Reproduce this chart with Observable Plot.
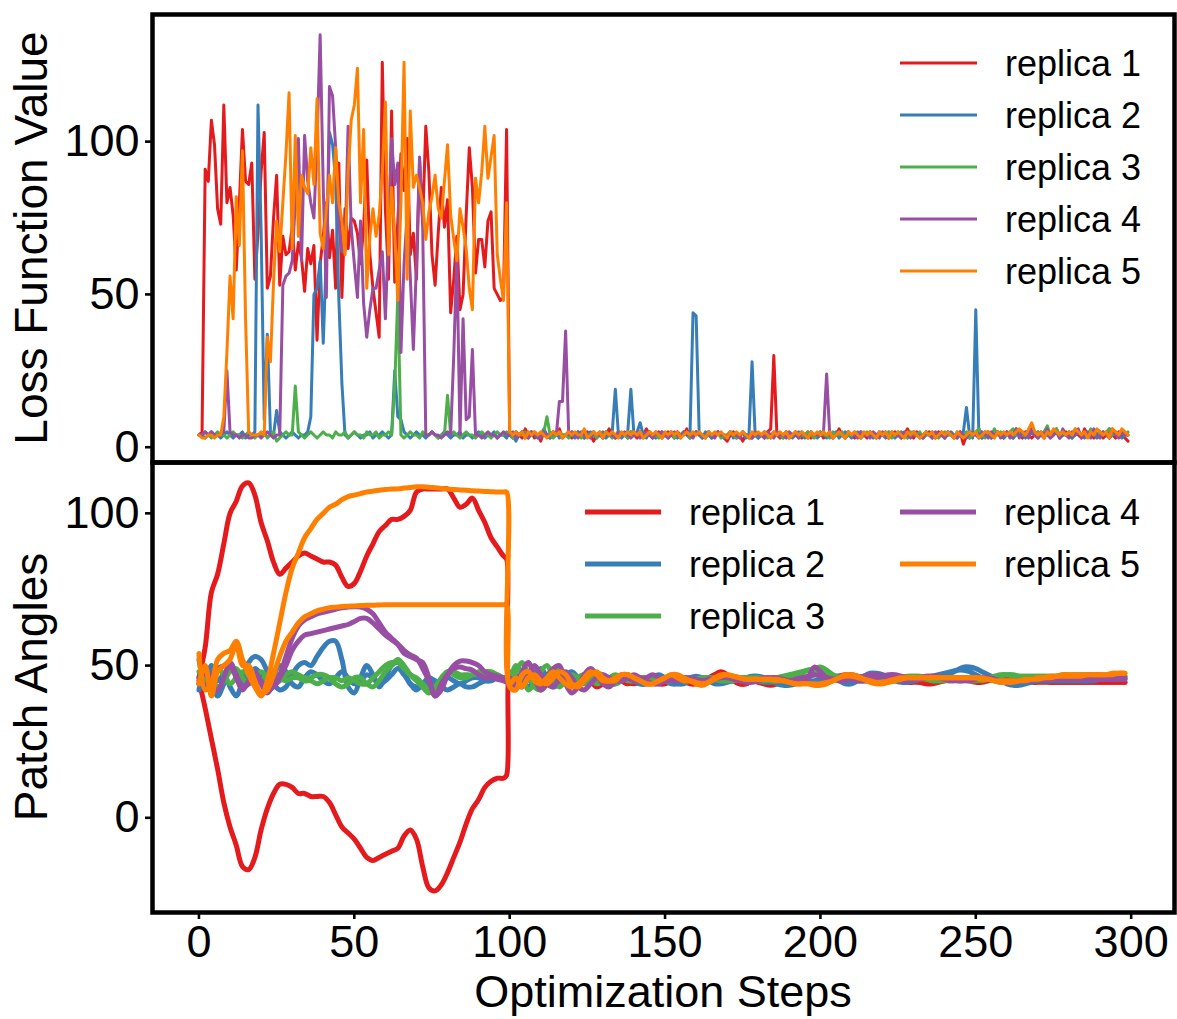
<!DOCTYPE html>
<html><head><meta charset="utf-8">
<script src="https://cdn.jsdelivr.net/npm/d3@7"></script>
<script src="https://cdn.jsdelivr.net/npm/@observablehq/plot@0.6"></script>
<style>
body{margin:0;background:#fff;}
#wrap{position:relative;width:1177px;height:1019px;overflow:hidden;background:#fff;font-family:"Liberation Sans",Arial,Helvetica,sans-serif;}
#wrap svg{position:absolute;left:0;overflow:visible;}
</style></head><body><div id="wrap"></div>
<script>
// ---------- categories ----------
const replicas = ["replica 1","replica 2","replica 3","replica 4","replica 5"];
const colors = ["#e41a1c","#377eb8","#4daf4a","#984ea3","#ff7f00"];
const xTicks = [0,50,100,150,200,250,300];
const yTicks = [0,50,100];

// ---------- top panel: loss per step (0..299) ----------
const lossR1 = [
4,5,91,87,107,99,78,73,112,80,85,76,58,80,104,87,86,93,55,70,
90,103,52,56,75,89,53,69,63,64,72,58,67,62,51,65,60,66,35,60,
69,80,62,71,52,93,49,78,65,75,74,70,60,72,94,63,52,44,36,126,
78,55,110,54,74,96,84,101,63,70,55,94,74,105,90,63,53,70,85,72,
81,44,55,69,45,50,76,98,85,57,68,68,59,74,77,52,50,48,49,104,
4,3,5,4,3,6,4,5,3,4,2,5,4,3,5,4,6,3,4,5,
3,4,5,4,3,5,4,2,4,5,3,4,6,4,3,5,4,4,3,5,
4,3,5,4,6,4,3,4,5,3,4,5,4,3,5,4,4,6,3,4,
5,4,3,4,5,3,4,5,4,3,2,4,5,3,4,2,4,3,3,4,
3,4,3,5,6,30,4,3,4,5,3,4,5,4,3,4,5,3,4,4,
5,3,4,5,3,4,6,4,3,5,4,3,4,5,4,3,5,4,3,4,
4,5,3,4,5,4,3,4,6,4,3,5,4,3,4,5,4,3,5,4,
3,5,4,3,4,5,1,4,3,5,4,6,3,4,5,3,4,5,4,3,
5,4,3,6,4,3,5,4,3,4,5,4,3,5,4,4,6,3,4,5,
4,3,5,4,3,6,4,5,3,4,5,3,4,6,4,3,5,4,3,2];
const lossR2 = [
4,4,3,4,5,4,4,3,4,5,4,3,4,4,5,3,4,4,5,112,
71,9,37,5,4,12,5,4,3,4,5,4,3,4,4,5,10,50,52,61,
34,63,103,99,87,49,21,4,3,4,5,4,3,4,4,5,3,4,4,5,
4,3,4,25,10,9,5,4,3,4,5,4,4,3,4,5,4,3,4,5,
4,3,4,4,5,3,4,4,3,4,5,4,3,4,4,5,3,4,4,3,
5,4,2,4,5,3,4,5,4,3,4,6,4,3,4,5,3,4,4,5,
4,3,5,4,3,4,5,4,3,4,5,3,4,5,19,4,3,4,5,19,
4,5,8,4,3,5,4,3,4,5,4,3,5,4,3,4,5,4,3,44,
43,4,3,5,4,3,4,5,4,3,4,5,3,4,4,5,3,4,28,4,
3,4,5,4,3,4,5,4,3,5,4,3,4,5,4,3,4,5,4,3,
4,5,3,4,4,5,3,4,5,4,3,4,5,3,4,4,5,3,4,5,
4,3,5,4,3,4,5,4,3,4,5,4,3,4,5,4,3,4,4,5,
3,4,5,4,3,4,5,13,4,3,45,4,3,5,4,3,4,5,4,3,
4,5,3,4,5,4,3,4,5,4,3,4,5,4,3,4,5,3,4,4,
5,3,4,5,4,3,4,5,4,3,4,5,4,3,4,5,4,3,4,4];
const lossR3 = [
4,4,5,4,3,4,5,4,4,3,4,5,4,4,3,4,5,4,3,4,
4,5,3,4,5,2,3,4,5,4,4,20,5,4,3,4,5,4,3,4,
5,4,4,3,5,4,4,5,3,4,5,4,4,3,5,4,4,5,3,4,
4,5,4,20,50,4,3,4,5,4,4,3,5,4,4,5,4,3,4,4,
17,4,5,4,3,4,5,4,4,3,4,5,4,4,3,4,5,4,4,5,
4,3,5,4,4,5,3,4,5,4,4,5,10,4,3,4,5,4,4,3,
5,4,4,3,5,4,4,5,3,4,4,5,4,3,4,5,4,4,3,5,
4,4,5,3,4,5,4,4,3,5,4,4,5,3,4,4,5,4,3,4,
5,4,4,3,5,4,4,5,3,4,4,5,4,3,4,5,4,4,3,5,
4,4,5,3,4,5,4,4,3,5,4,4,5,3,4,4,5,4,3,4,
5,4,4,3,5,4,4,5,3,4,4,5,4,3,4,5,4,4,3,5,
4,4,5,3,4,5,4,4,3,5,4,4,5,3,4,4,5,4,3,4,
5,4,4,3,5,4,4,5,3,4,5,6,4,3,5,4,6,4,5,4,
4,5,6,4,5,4,4,5,6,4,5,4,5,7,4,5,6,4,5,4,
5,4,6,5,4,5,4,6,5,4,5,4,5,6,4,5,4,5,4,5];
const lossR4 = [
4,4,5,4,5,4,4,4,5,25,5,4,4,3,4,4,3,3,4,4,
3,4,5,4,3,4,4,53,56,57,61,80,101,61,102,87,80,75,100,135,
85,49,118,115,98,74,64,64,105,72,60,49,74,47,36,45,52,52,58,64,
42,70,101,86,93,31,60,76,56,32,60,95,72,4,4,5,4,4,3,4,
5,4,30,63,4,42,9,10,32,4,4,3,4,5,4,4,3,4,5,4,
4,5,3,4,5,4,3,5,4,4,3,5,4,4,5,4,15,15,38,4,
5,4,3,5,4,4,3,5,4,4,3,5,4,4,3,5,4,5,4,3,
4,5,3,4,5,4,3,5,4,5,4,3,4,5,4,3,5,4,4,3,
5,4,4,3,5,4,3,5,4,4,3,5,4,4,3,5,4,4,3,5,
4,4,3,5,4,3,5,4,4,3,5,4,4,3,5,4,3,5,4,4,
4,5,24,4,3,4,5,4,3,5,4,4,3,5,4,4,3,5,4,3,
5,4,3,5,4,4,3,5,4,3,5,4,4,3,5,4,3,5,4,4,
3,5,4,4,3,5,4,3,5,4,4,3,5,4,3,5,4,5,3,4,
5,3,4,6,3,5,4,3,6,4,3,5,4,6,3,4,5,3,6,4,
3,5,4,6,3,4,5,3,6,4,3,5,4,3,6,4,3,5,4,4];
const lossR5 = [
4,3,3,4,4,3,4,4,10,31,56,42,82,66,97,42,5,4,4,4,
5,4,36,28,54,74,64,80,96,116,65,102,69,89,85,83,98,86,114,70,
65,78,89,80,98,80,74,63,90,107,112,124,80,104,52,69,78,69,76,90,
113,63,85,70,48,80,126,55,110,85,89,85,80,68,77,82,89,78,75,87,
99,76,68,61,78,72,65,52,45,88,80,90,105,88,95,102,63,55,48,80,
5,4,5,4,5,3,5,4,5,4,5,4,3,4,5,4,5,3,4,5,
4,5,4,4,6,3,4,5,4,5,3,5,4,5,4,3,5,4,5,4,
5,4,5,3,4,5,4,5,4,3,5,4,5,4,5,3,4,5,4,5,
4,5,4,3,5,4,5,4,5,4,3,5,4,5,4,5,4,3,5,4,
5,4,5,4,3,5,4,5,4,5,3,4,5,4,5,4,3,5,4,5,
4,5,4,5,3,4,5,4,3,5,4,5,4,3,5,4,5,4,3,5,
4,5,3,5,4,5,4,3,5,4,5,4,3,4,5,4,5,3,4,5,
4,5,4,3,5,4,3,4,5,4,5,3,4,5,5,4,3,5,4,5,
4,5,4,5,6,5,4,6,8,5,4,5,3,5,4,6,5,4,5,4,
5,4,6,5,4,5,3,5,4,6,5,4,5,3,6,5,4,6,5,4];

// ---------- bottom panel: patch angles (two patches per replica) ----------
// pre: steps 0,2,...,98 then 99 ; post: steps 100,102,...,298
const angR1aPre = [46,56,74,80,90,100,104,109,110,106, 97,91,84,80,82,84,86,87,86,85, 84,84,83,79,76,77,81,86,90,94, 96,98,98,99,101,107,108,108,108,108, 108,105,102,103,105,101,97,92,89,86, 85];
const angR1bPre = [45,36,26,16,5,-3,-9,-16,-17,-13, -4,3,8,11,11,10,8,8,7,7, 7,5,1,-3,-5,-7,-10,-13,-14,-13, -12,-11,-10,-6,-4,-7,-16,-23,-24,-22, -18,-13,-8,-2,3,6,10,12,13,13, 14];
const angR2aPre = [52,44,50,45,47,43,40,45,51,53, 52,48,44,42,43,47,50,51,50,53, 56,58,58,52,43,41,46,50,47,43, 46,50,51,48,44,43,43,44,44,43, 42,43,44,43,43,44,45,46,46,46, 46];
const angR2bPre = [42,48,45,40,44,49,47,43,46,49, 47,44,47,50,48,44,43,46,48,47, 45,44,46,48,46,44,45,47,46,44, 45,47,49,47,44,42,44,46,45,44, 46,45,44,45,46,46,45,45,46,46, 46];
const angR3aPre = [48,45,47,49,47,44,46,48,47,44, 45,47,48,46,45,46,46,45,45,44, 45,46,46,45,46,45,44,44,46,48, 50,51,51,49,47,46,44,42,42,45, 48,48,47,47,47,48,48,48,47,46, 46];
const angR3bPre = [44,47,46,43,45,48,49,46,44,46, 48,46,44,45,47,48,47,46,46,47, 47,46,44,43,44,46,46,44,43,45, 48,50,52,50,47,45,43,41,43,46, 48,47,46,46,47,47,47,47,47,46, 46];
const angR4aPre = [46,43,47,49,50,50,46,42,45,48, 44,41,44,47,53,59,63,65,66,67, 67.5,68,68.5,69,69.2,69.3,69.2,68.5,67,64, 61,59,57,54,53,52,51,46,40,42, 47,50,51.5,51.5,51,50,48,47,46.5,46, 46];
const angR4bPre = [44,48,44,42,46,51,47,43,44,47, 45,42,43,46,50,55,58,60,60.5,61, 61.5,62,62.5,63,63.5,64.5,65.5,65.5,64,62, 60,58.5,57,55,53.5,52.5,49,45,40,44, 47,49,49.5,49,48.5,47,46,46,45.5,45, 44.5];
const angR5aPre = [54,42,44,52,54,55,58,52,47,43, 40,45,54,64,74,82,87,92,95,98, 100,102,103,104.5,105.5,106,106.5,107,107.3,107.6, 107.8,108,108,108.3,108.5,108.7,108.7,108.6,108.4,108.2, 108,107.8,107.7,107.6,107.4,107.3,107.2,107.1,107,107, 107];
const angR5bPre = [44,50,40,48,50,52,57,50,50,45, 41,42,47,53,58,61,64,66,67,68, 68.5,69,69.2,69.4,69.5,69.6,69.7,69.8,69.8,69.9, 70,70,70,70,70,70,70,70,70,70, 70,70,70,70,70,70,70,70,70,70, 70];

const angR1aPost = [
45,44,47,46,43,44,47,48,46,44, 43,45,47,46,44,44,45,46,46,45,
44,45,46,45,44,44,45,46,46,45, 44,44,45,47,48,47,45,44,44,45,
45,44,43.5,44,45,46,46.5,46,45,44.5, 44.5,45,46,46.5,47,47,46.5,46,45.5,45.5,
46,46.5,46.5,46,45.5,45,44.5,44,44,44.5, 45,45.5,46,46,45.5,45,45,45.5,46,46.5,
46.5,46,45.5,45,45,45,45,44.5,44.5,44.5, 44.5,44.5,44.5,44.5,44.5,44.5,44.5,44.5,44.5,44.5];
const angR1bPost = [
47,43,45,48,45,42,44,47,47,45, 44,46,47,45,43,44,46,46,45,44,
45,46,46,45,44,45,46,46,45,44, 44,45,46,47,47,46,45,44,44,45,
44.5,44,44,44.5,45.5,46,46,45.5,45,44.5, 45,45.5,46,46.5,46.5,46,45.5,45,45,45.5,
46,46,45.5,45,44.5,44.5,44.5,44.5,45,45.5, 45.5,46,46,45.5,45,44.5,44.5,45,45.5,46,
46,45.5,45,45,44.5,44.5,44.5,44.5,44.5,44.5, 44.5,44.5,44.5,44.5,44.5,44.5,44.5,44.5,44.5,44.5];
const angR2aPost = [
44,47,45,43,46,49,46,43,44,47, 48,46,44,45,47,46,44,44,46,47,
46,44,44,46,47,46,45,44,44,45, 46,46,45,44,44,44.5,45,45.5,46,46.5,
46.5,46,45,44,43.5,43.5,44,45,46,47, 47,46.5,46,45,44,44,45,46.5,47.5,47.5,
47,46,45,44.5,44.5,45,45.5,46,46,46, 46.5,47.5,48.5,49.5,49.5,49,48,47,46,45,
44,43.5,43.5,44,44.5,45,45,45,45,45, 45,45,45,45,45,45.5,45.5,45.5,45.5,45.5];
const angR2bPost = [
48,44,43,46,48,46,44,45,47,46, 44,44,46,47,46,45,44,45,46,46,
45,44,45,46,46,45,44,44,45,46, 46.5,46,45,44.5,44.5,45,45.5,46,46,45.5,
45,44.5,44.5,45,45.5,46,46,45.5,45,45, 45.5,46,46.5,46.5,46,45.5,45,45,45.5,46,
46.5,46.5,46,45.5,45,45,45.5,46,46.5,47, 47.5,48,48.5,48.5,48,47,46,45.5,45,44.5,
44.5,44.5,44.5,44.5,45,45,45,45,45,45, 45,45,45,45,45.5,45.5,45.5,45.5,46,46];
const angR3aPost = [
46,50,47,42,44,48,50,46,43,45, 47,46,44,45,47,47,45,44,45,46,
46,45,45,46,46,45,45,46,46,45, 45,45.5,46,46,45.5,45,45,45.5,46,46,
46,45.5,45,45,45.5,46,46.5,47.5,48.5,49, 49.5,48.5,47,46,45.5,45.5,46,46.5,46.5,46,
45.5,45,45,45.5,46,46.5,46.5,46,45.5,45, 45,45,45.5,46,46,45.5,45,45.5,46,46.5,
47,47,46.5,46.5,46.5,46.5,46.5,46.5,46.5,46.5, 46.5,46.5,46.5,46.5,46.5,46.5,46.5,46.5,46.5,46.5];
const angR3bPost = [
44,48,51,47,43,42,45,49,48,45, 44,46,47,46,44,45,46,47,46,45,
45,46,46,45,45,45,46,46,45,45, 45.5,46,46,45.5,45,45,45.5,46,46,45.5,
45,45,45.5,46,46.5,47,47.5,48,48.5,48.5, 48,47,46,45.5,45.5,46,46,46,45.5,45,
45,45,45.5,46,46.5,46.5,46,45.5,45,45, 45.5,46,46,45.5,45,45,45.5,46,46.5,47,
47,46.5,46.5,46.5,46.5,46.5,46.5,46.5,46.5,47, 47,47,47,47,47,47,46.5,46.5,46.5,46.5];
const angR4aPost = [
46,43,48,51,46,42,45,49,50,44, 41,43,47,49,47,44,43,45,47,46,
45,45,46,47,46,45,45,45,46,46, 45.5,45,45,45.5,46,46,45.5,45,44.5,44.5,
45,45.5,46,46,45.5,45,44.5,44.5,46,49.5, 48,46,45.5,46,46,45.5,45,45,45.5,46,
46.5,47,47,46.5,46,45.5,45.5,46,46.5,46.5, 46,45.5,45,45,45,45.5,46,46,45.5,45,
44.5,44.5,45,45,45.5,45.5,45.5,45.5,45.5,45.5, 45.5,45.5,45.5,45.5,45.5,45.5,45.5,45.5,45.5,45.5];
const angR4bPost = [
44,46,44,47,50,47,44,43,46,48, 46,43,42,44,46,47,46,45,45,46,
47,46,45,44,44,45,46,46,45,45, 45,45,45.5,46,46.5,46.5,46,45.5,45,45,
45.5,46,46,45.5,45,45,45.5,46,46.5,47, 46.5,46,45.5,45,45,45.5,46,46.5,47,47,
46.5,46,45.5,45,45,45.5,46,46.5,46.5,46, 45.5,45,45,45,45.5,46,46,46,45.5,45,
45,45,45,45,45,45.5,45.5,45.5,45.5,46, 46,46,46,46,46,46,46,46,46,46];
const angR5aPost = [
43,42,47,48,45,44,46,48,46,44, 43,44,46,48,47,45,45,46,47,47,
46,45,44,44,45,46,47,47,46,45, 44,43.5,44.5,46,47,47,46.5,46,45.5,45.5,
45.5,45.5,45.5,45.5,45,44.5,44,44,44,43.5, 43.5,44,45,46,47,47,46.5,45.5,44.5,44,
44,44.5,45,45.5,46,46,46,46,46,46, 46,46,46,46,46,46,46,45.5,45,44.5,
44.5,44.5,45,45,45.5,45.5,46,46,46.5,46.5, 46.5,46.5,46.5,47,47,47,47,47,47.5,47.5];
const angR5bPost = [
44,46,43,46,47,45,44,46,48,47, 44,43,45,47,48,46,45,45,47,47,
46,45,44,44,45,46,47,46,45,45, 44.5,44,44.5,45.5,46.5,47,46.5,46,45.5,45.5,
45.5,45.5,45.5,45,45,44.5,44,44,44,44, 44,44.5,45,46,46.5,46.5,46,45.5,45,44.5,
44.5,45,45.5,46,46,46,46,46,46,46, 46,46,46,46,46,46,45.5,45.5,45,45,
45,45,45,45.5,45.5,46,46,46.5,46.5,47, 47,47,47,47,47,47,47,47.5,47.5,47.5];

// ---------- build tables ----------
const lossSeries = [lossR1,lossR2,lossR3,lossR4,lossR5];
const lossData = lossSeries.flatMap((vals,i)=>vals.map((v,s)=>({step:s,value:v,replica:replicas[i]})));

const preSteps = d3.range(0,100,2).concat([99]);
const postSteps = d3.range(100,300,2);
const angleLines = [
  {id:"1a",r:0,pre:angR1aPre,post:angR1aPost},{id:"1b",r:0,pre:angR1bPre,post:angR1bPost},
  {id:"2a",r:1,pre:angR2aPre,post:angR2aPost},{id:"2b",r:1,pre:angR2bPre,post:angR2bPost},
  {id:"3a",r:2,pre:angR3aPre,post:angR3aPost},{id:"3b",r:2,pre:angR3bPre,post:angR3bPost},
  {id:"4a",r:3,pre:angR4aPre,post:angR4aPost},{id:"4b",r:3,pre:angR4bPre,post:angR4bPost},
  {id:"5a",r:4,pre:angR5aPre,post:angR5aPost},{id:"5b",r:4,pre:angR5bPre,post:angR5bPost}
];
const angleData = angleLines.flatMap(L=>[
  ...L.pre.map((v,i)=>({step:preSteps[i],value:v,id:L.id,replica:replicas[L.r]})),
  ...L.post.map((v,i)=>({step:postSteps[i],value:v,id:L.id,replica:replicas[L.r]}))
]);

// ---------- plots ----------
const FONT = '"Liberation Sans", Arial, Helvetica, sans-serif';
const xDomain = [-14.95, 313.95];
const common = {width:1177, marginLeft:152, marginRight:3,
  style:{fontFamily:FONT, color:"#000", background:"transparent", overflow:"visible"},
  color:{domain:replicas, range:colors}};

const topPlot = Plot.plot({
  ...common, height:464, marginTop:14, marginBottom:2,
  x:{domain:xDomain, axis:null},
  y:{domain:[-5,141.6]},
  marks:[
    Plot.line(lossData,{x:"step",y:"value",z:"replica",stroke:"replica",strokeWidth:3,strokeLinejoin:"round"}),
    Plot.axisY({ticks:yTicks, tickSize:7, tickPadding:6, fontSize:45, strokeWidth:2.6, label:null}),
    Plot.frame({stroke:"#000", strokeWidth:4.5})
  ]
});
topPlot.style.top = "0px";

const botPlot = Plot.plot({
  ...common, height:559, marginTop:2, marginBottom:107,
  x:{domain:xDomain},
  y:{domain:[-31.1,116.7]},
  marks:[
    Plot.line(angleData,{x:"step",y:"value",z:"id",stroke:"replica",strokeWidth:5,strokeLinejoin:"round",curve:"catmull-rom"}),
    Plot.axisY({ticks:yTicks, tickSize:7, tickPadding:6, fontSize:45, strokeWidth:2.6, label:null}),
    Plot.axisX({ticks:xTicks, tickSize:7, tickPadding:6, fontSize:45, strokeWidth:2.6, label:null}),
    Plot.frame({stroke:"#000", strokeWidth:4.5})
  ]
});
botPlot.style.top = "460px";

const wrap = document.getElementById("wrap");
wrap.appendChild(topPlot);
wrap.appendChild(botPlot);

// ---------- overlay: axis titles and legends ----------
const ov = d3.select(wrap).append("svg")
  .attr("width",1177).attr("height",1019).style("top","0px")
  .style("font-family",FONT).style("pointer-events","none");

ov.append("text").text("Loss Function Value")
  .attr("transform","translate(31,238) rotate(-90)")
  .attr("text-anchor","middle").attr("dominant-baseline","central").attr("font-size",46);
ov.append("text").text("Patch Angles")
  .attr("transform","translate(31,687) rotate(-90)")
  .attr("text-anchor","middle").attr("dominant-baseline","central").attr("font-size",46);
ov.append("text").text("Optimization Steps")
  .attr("x",663).attr("y",1007)
  .attr("text-anchor","middle").attr("font-size",45);

const topLegend = replicas.map((r,i)=>({r, c:colors[i], x:900, y:63+52*i}));
const botLegend = replicas.map((r,i)=>({r, c:colors[i], x: i<3 ? 585 : 900, y: 512 + 52*(i<3 ? i : i-3)}));
function legend(items, lw, len){
  const g = ov.append("g");
  items.forEach(d=>{
    g.append("line").attr("x1",d.x).attr("x2",d.x+len).attr("y1",d.y).attr("y2",d.y)
      .attr("stroke",d.c).attr("stroke-width",lw);
    g.append("text").text(d.r).attr("x",d.x+len+28).attr("y",d.y)
      .attr("dominant-baseline","central").attr("font-size",36);
  });
}
legend(topLegend, 3, 77);
legend(botLegend, 5, 76);
</script></body></html>
